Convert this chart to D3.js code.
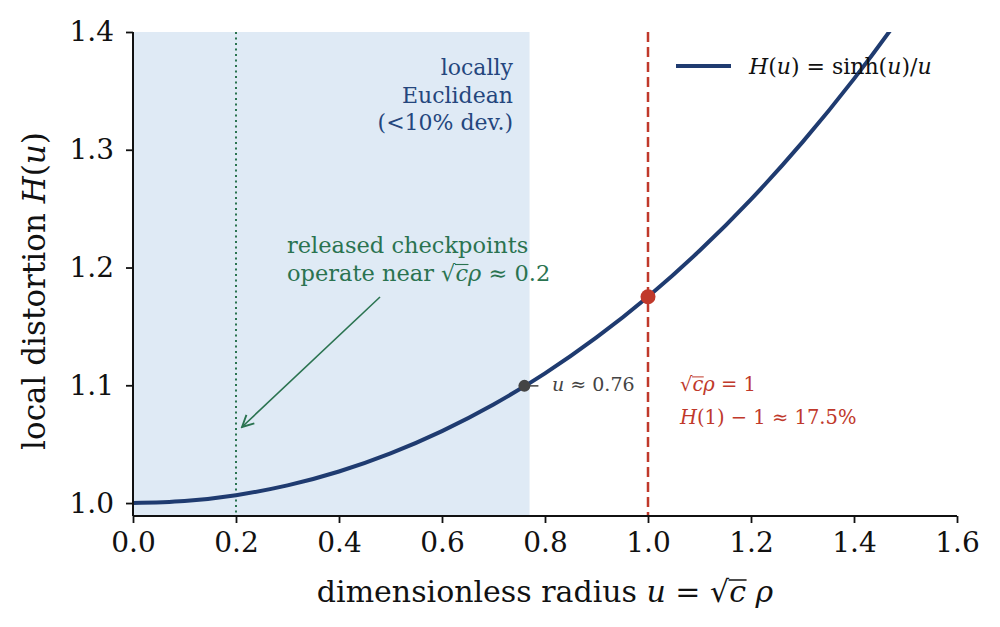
<!DOCTYPE html>
<html>
<head>
<meta charset="utf-8">
<script src="https://cdn.jsdelivr.net/npm/d3@7"></script>
<style>
  body { margin: 0; background: #fff; }
  text { font-family: "DejaVu Serif", serif; }
  .math { font-style: italic; }
</style>
</head>
<body>
<svg id="chart" width="1000" height="627"></svg>
<script>
// values
const uValues = [0, 0.1, 0.2, 0.3, 0.4, 0.5, 0.6, 0.7, 0.8, 0.9, 1.0, 1.1, 1.2, 1.3, 1.4, 1.5, 1.6];
const hValues = [1.0, 1.0017, 1.0067, 1.015, 1.0268, 1.0422, 1.0611, 1.0837, 1.1101, 1.1406, 1.1752, 1.2142, 1.2579, 1.3065, 1.3602, 1.4195, 1.4847];
const xTicks = [0.0, 0.2, 0.4, 0.6, 0.8, 1.0, 1.2, 1.4, 1.6];
const yTicks = [1.0, 1.1, 1.2, 1.3, 1.4];
const euclidBand = [0, 0.77];
const checkpointU = 0.2;
const unitU = 1.0;
const markerU = [0.76, 1.0];
const markerH = [1.0995, 1.1752];

const svg = d3.select("#chart");
const leftX = 133, rightX = 957, topY = 32, bottomY = 516;

const x = d3.scaleLinear().domain([0, 1.6]).range([leftX, rightX]);
const y = d3.scaleLinear().domain([0.989, 1.4]).range([bottomY, topY]);

const navy = "#1f3b70";
const red = "#c0392b";
const green = "#2a7350";

svg.append("defs").append("clipPath").attr("id", "plotClip")
    .append("rect").attr("x", leftX).attr("y", topY)
    .attr("width", rightX - leftX).attr("height", bottomY - topY);

// shaded band
svg.append("rect")
    .attr("x", x(euclidBand[0])).attr("y", topY)
    .attr("width", x(euclidBand[1]) - x(euclidBand[0]))
    .attr("height", bottomY - topY)
    .attr("fill", "#dfeaf5");

// reference lines
svg.append("line")
    .attr("x1", x(checkpointU)).attr("x2", x(checkpointU))
    .attr("y1", topY).attr("y2", bottomY)
    .attr("stroke", green).attr("stroke-width", 2)
    .attr("stroke-dasharray", "2,3.5");

svg.append("line")
    .attr("x1", x(unitU)).attr("x2", x(unitU))
    .attr("y1", topY).attr("y2", bottomY)
    .attr("stroke", red).attr("stroke-width", 2.5)
    .attr("stroke-dasharray", "10,5");

// curve
const pts = uValues.map((u, i) => [u, hValues[i]]);
svg.append("path")
    .datum(pts)
    .attr("clip-path", "url(#plotClip)")
    .attr("fill", "none")
    .attr("stroke", navy)
    .attr("stroke-width", 4)
    .attr("d", d3.line().x(d => x(d[0])).y(d => y(d[1])).curve(d3.curveMonotoneX));

// markers
svg.append("line")
    .attr("x1", x(markerU[0])).attr("x2", x(markerU[0]) + 14)
    .attr("y1", y(markerH[0])).attr("y2", y(markerH[0]))
    .attr("stroke", "#444").attr("stroke-width", 1.5);
svg.append("circle")
    .attr("cx", x(markerU[0])).attr("cy", y(markerH[0])).attr("r", 6)
    .attr("fill", "#444");
svg.append("circle")
    .attr("cx", x(markerU[1])).attr("cy", y(markerH[1])).attr("r", 7.5)
    .attr("fill", red);

// axes
const xAxis = svg.append("g")
    .attr("transform", "translate(0," + bottomY + ")")
    .call(d3.axisBottom(x).tickValues(xTicks).tickFormat(d3.format(".1f")).tickSize(7).tickPadding(9));
const yAxis = svg.append("g")
    .attr("transform", "translate(" + leftX + ",0)")
    .call(d3.axisLeft(y).tickValues(yTicks).tickFormat(d3.format(".1f")).tickSize(7).tickPadding(12));

[xAxis, yAxis].forEach(a => {
    a.select(".domain").attr("stroke", "#111").attr("stroke-width", 2);
    a.selectAll(".tick line").attr("stroke", "#111").attr("stroke-width", 1.8);
    a.selectAll(".tick text").attr("fill", "#111")
        .style("font-family", "DejaVu Serif").style("font-size", "28px");
});
yAxis.select(".domain").attr("d", "M0," + topY + "V" + bottomY);
xAxis.select(".domain").attr("d", "M" + leftX + ",0H" + rightX);

// bar over the radicand: √ + c, drawn by hand
const radicals = [];
function sqrtC(textSel) {
    textSel.append("tspan").text("√");
    const c = textSel.append("tspan").attr("class", "math").text("c");
    radicals.push(c);
}
function drawRadicalBars() {
    radicals.forEach(c => {
        const node = c.node();
        const box = node.getExtentOfChar(0);
        const fs = parseFloat(getComputedStyle(node).fontSize);
        const parent = d3.select(node.parentNode);
        const yBar = box.y + fs * 0.2;
        svg.append("line")
            .attr("x1", box.x - fs * 0.02).attr("x2", box.x + box.width + fs * 0.02)
            .attr("y1", yBar).attr("y2", yBar)
            .attr("stroke", parent.attr("fill"))
            .attr("stroke-width", Math.max(1, fs * 0.05));
    });
}

// axis titles
const xTitle = svg.append("text")
    .attr("x", 545).attr("y", 602)
    .attr("text-anchor", "middle")
    .attr("fill", "#111").style("font-size", "30px");
xTitle.append("tspan").text("dimensionless radius ");
xTitle.append("tspan").attr("class", "math").text("u");
xTitle.append("tspan").text(" = ");
sqrtC(xTitle);
xTitle.append("tspan").attr("class", "math").text(" ρ");

const yTitle = svg.append("text")
    .attr("transform", "translate(45,291) rotate(-90)")
    .attr("text-anchor", "middle")
    .attr("fill", "#111").style("font-size", "31px");
yTitle.append("tspan").text("local distortion ");
yTitle.append("tspan").attr("class", "math").text("H");
yTitle.append("tspan").text("(");
yTitle.append("tspan").attr("class", "math").text("u");
yTitle.append("tspan").text(")");

// band label
const bandLabel = ["locally", "Euclidean", "(<10% dev.)"];
svg.append("g").selectAll("text")
    .data(bandLabel).join("text")
    .attr("x", 513).attr("y", (d, i) => 75 + i * 27.5)
    .attr("text-anchor", "end")
    .attr("fill", "#24467d").style("font-size", "22px")
    .text(d => d);

// checkpoint annotation
svg.append("text")
    .attr("x", 287).attr("y", 253)
    .attr("fill", green).style("font-size", "22.5px")
    .text("released checkpoints");
const op = svg.append("text")
    .attr("x", 287).attr("y", 281)
    .attr("fill", green).style("font-size", "22.5px");
op.append("tspan").text("operate near ");
sqrtC(op);
op.append("tspan").attr("class", "math").text("ρ");
op.append("tspan").text(" ≈ 0.2");

svg.append("defs").append("marker")
    .attr("id", "arrowHead").attr("viewBox", "0 0 10 10")
    .attr("refX", 9).attr("refY", 5)
    .attr("markerWidth", 9).attr("markerHeight", 9)
    .attr("orient", "auto")
    .append("path").attr("d", "M1,1 L9,5 L1,9")
    .attr("fill", "none").attr("stroke", green).attr("stroke-width", 1.3);

svg.append("line")
    .attr("x1", 380).attr("y1", 297)
    .attr("x2", x(checkpointU) + 6).attr("y2", 427)
    .attr("stroke", green).attr("stroke-width", 1.6)
    .attr("marker-end", "url(#arrowHead)");

// marker labels
const uLab = svg.append("text")
    .attr("x", 552).attr("y", 391)
    .attr("fill", "#444").style("font-size", "19px");
uLab.append("tspan").attr("class", "math").text("u");
uLab.append("tspan").text(" ≈ 0.76");

const r1 = svg.append("text")
    .attr("x", 680).attr("y", 391)
    .attr("fill", red).style("font-size", "19.5px");
sqrtC(r1);
r1.append("tspan").attr("class", "math").text("ρ");
r1.append("tspan").text(" = 1");

const r2 = svg.append("text")
    .attr("x", 680).attr("y", 424)
    .attr("fill", red).style("font-size", "19.5px");
r2.append("tspan").attr("class", "math").text("H");
r2.append("tspan").text("(1) − 1 ≈ 17.5%");

// legend
svg.append("line")
    .attr("x1", 676).attr("x2", 731)
    .attr("y1", 66).attr("y2", 66)
    .attr("stroke", navy).attr("stroke-width", 4);
const leg = svg.append("text")
    .attr("x", 749).attr("y", 74)
    .attr("fill", "#111").style("font-size", "22px");
leg.append("tspan").attr("class", "math").text("H");
leg.append("tspan").text("(");
leg.append("tspan").attr("class", "math").text("u");
leg.append("tspan").text(") = sinh(");
leg.append("tspan").attr("class", "math").text("u");
leg.append("tspan").text(")/");
leg.append("tspan").attr("class", "math").text("u");

drawRadicalBars();
</script>
</body>
</html>
